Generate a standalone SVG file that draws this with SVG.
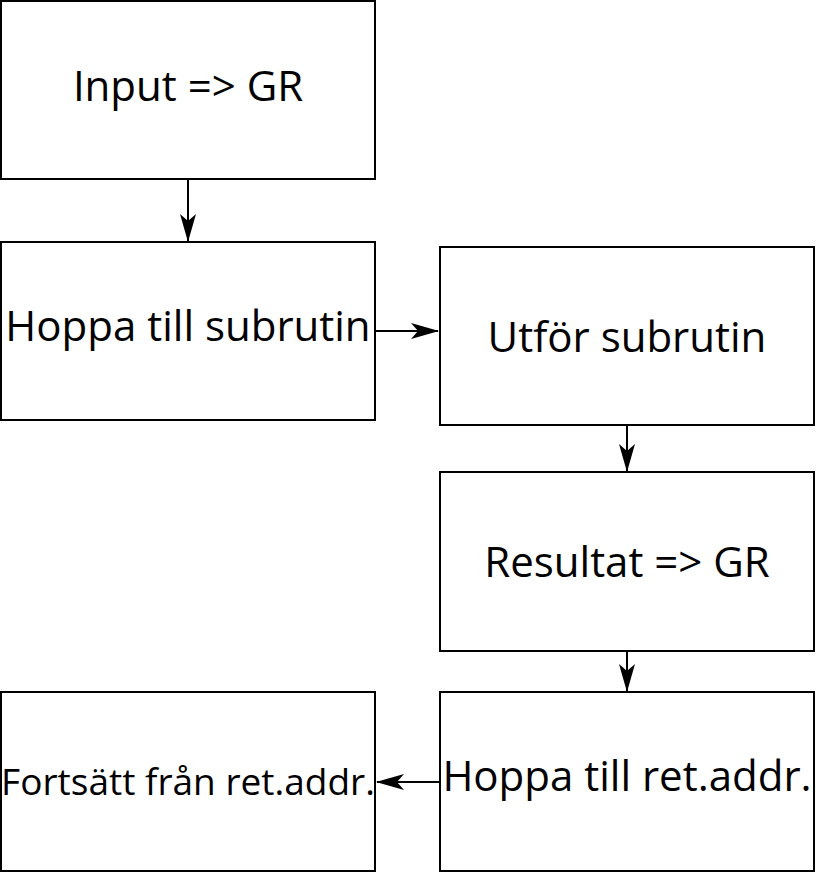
<svg xmlns="http://www.w3.org/2000/svg" width="816" height="873" viewBox="0 0 816 873">
<defs>
<style>
.box{fill:#fff;stroke:#000;stroke-width:2}
.lbl{font-family:"Open Sans","Noto Sans",sans-serif;font-size:42px;fill:#000;text-anchor:middle}
.sm{font-size:37px}
.edge{stroke:#000;stroke-width:2;fill:none}
</style>
<marker id="arr" viewBox="0 0 28 16" refX="27" refY="8" markerWidth="28" markerHeight="16" markerUnits="userSpaceOnUse" orient="auto">
<path d="M0,0 L28,8 L0,16 L7,8 Z" fill="#000"/>
</marker>
</defs>
<rect width="816" height="873" fill="#fff"/>
<g id="n1"><rect class="box" x="1" y="1" width="374" height="178"/><text class="lbl" x="188" y="101">Input =&gt; GR</text></g>
<g id="n2"><rect class="box" x="1" y="242" width="374" height="178"/><text class="lbl" x="188" y="341">Hoppa till subrutin</text></g>
<g id="n3"><rect class="box" x="440" y="247" width="374" height="178"/><text class="lbl" x="627" y="352">Utför subrutin</text></g>
<g id="n4"><rect class="box" x="440" y="472" width="374" height="179"/><text class="lbl" x="627" y="577">Resultat =&gt; GR</text></g>
<g id="n5"><rect class="box" x="440" y="692" width="374" height="179"/><text class="lbl" x="627" y="791">Hoppa till ret.addr.</text></g>
<g id="n6"><rect class="box" x="1" y="692" width="374" height="179"/><text class="lbl sm" x="188" y="795">Fortsätt från ret.addr.</text></g>
<g id="edges">
<path class="edge" d="M188,180 L188,241" marker-end="url(#arr)"/>
<path class="edge" d="M376,331 L438,331" marker-end="url(#arr)"/>
<path class="edge" d="M627,426 L627,471" marker-end="url(#arr)"/>
<path class="edge" d="M627,652 L627,691" marker-end="url(#arr)"/>
<path class="edge" d="M439,782 L377,782" marker-end="url(#arr)"/>
</g>
</svg>
